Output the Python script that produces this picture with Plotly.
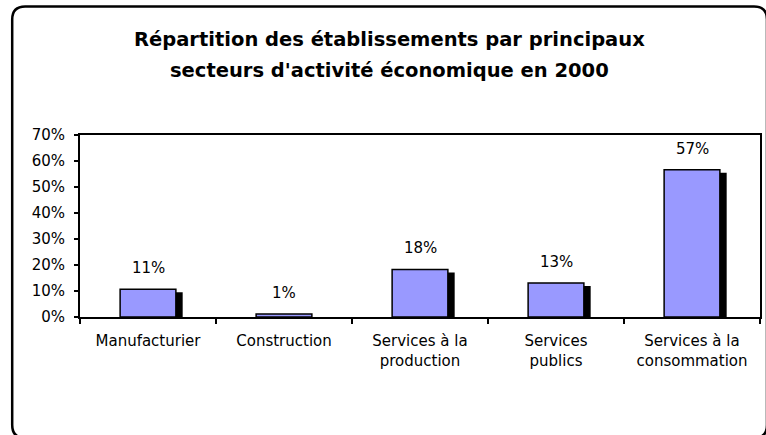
import plotly.graph_objects as go

categories = ["Manufacturier", "Construction", "Services à la<br>production",
              "Services<br>publics", "Services à la<br>consommation"]
values = [10.7, 1.2, 18.3, 13.1, 56.6]
value_labels = ["11%", "1%", "18%", "13%", "57%"]
y_ticks = [0, 10, 20, 30, 40, 50, 60, 70]
title_lines = ["Répartition des établissements par principaux",
               "secteurs d'activité économique en 2000"]

W, H = 766, 435
ML, MR, MT, MB = 80, 4, 135, 118
PW, PH = W - ML - MR, H - MT - MB
FONT = "DejaVu Sans"

def px(x):
    return (x - ML) / PW

def py(y):
    return (H - MB - y) / PH

BAR_W = 0.41
SHADOW_DX = 0.05
SHADOW_DY = 3 / (PH / 70)

fig = go.Figure()
fig.add_trace(go.Bar(
    x=categories, y=values, base=-SHADOW_DY, width=BAR_W, offset=-BAR_W / 2 + SHADOW_DX,
    marker=dict(color="black", line=dict(width=0)), hoverinfo="skip", showlegend=False))
fig.add_trace(go.Bar(
    x=categories, y=values, width=BAR_W, offset=-BAR_W / 2,
    marker=dict(color="#9999FF", line=dict(color="black", width=1.5)), showlegend=False))

for c, v, t in zip(categories, values, value_labels):
    fig.add_annotation(x=c, y=v, text=t, showarrow=False, yshift=21, yanchor="middle",
                       font=dict(family=FONT, size=15, color="black"))

for i, (line, ycen) in enumerate(zip(title_lines, [39, 71])):
    fig.add_annotation(xref="paper", yref="paper", x=px(390), y=py(ycen), text="<b>%s</b>" % line,
                       showarrow=False, xanchor="center", yanchor="middle",
                       font=dict(family=FONT, size=19.5, color="black"))

# rounded outer frame
L, T, R, B, r = 12, 6.5, 769, 438, 13
pts = [("M", (L + r, T)), ("L", (R - r, T)), ("Q", (R, T), (R, T + r)), ("L", (R, B - r)),
       ("Q", (R, B), (R - r, B)), ("L", (L + r, B)), ("Q", (L, B), (L, B - r)),
       ("L", (L, T + r)), ("Q", (L, T), (L + r, T))]
path = ""
for p in pts:
    cmd = p[0]
    coords = " ".join("%.5f,%.5f" % (px(a), py(b)) for a, b in p[1:])
    path += "%s %s " % (cmd, coords)
path += "Z"
fig.add_shape(type="path", path=path, xref="paper", yref="paper",
              line=dict(color="black", width=2.5), fillcolor="rgba(0,0,0,0)", layer="above")

fig.update_layout(
    width=W, height=H, margin=dict(l=ML, r=MR, t=MT, b=MB),
    paper_bgcolor="white", plot_bgcolor="white", barmode="overlay",
    font=dict(family=FONT, size=15, color="black"),
    xaxis=dict(type="category", showline=True, linecolor="black", linewidth=2, mirror=True,
               ticks="outside", tickson="boundaries", ticklen=5, tickwidth=2, tickcolor="black",
               showgrid=False, ticklabelstandoff=9, tickfont=dict(size=15)),
    yaxis=dict(range=[0, 70], tickvals=y_ticks, ticktext=["%d%%" % v for v in y_ticks],
               showline=True, linecolor="black", linewidth=2, mirror=True,
               ticks="outside", ticklen=4, tickwidth=2, tickcolor="black",
               showgrid=False, zeroline=False, ticklabelstandoff=6, tickfont=dict(size=15)),
)

fig.write_html("out.html", config={"displayModeBar": False},
               post_script="document.body.style.margin='0';document.body.style.overflow='hidden';")
